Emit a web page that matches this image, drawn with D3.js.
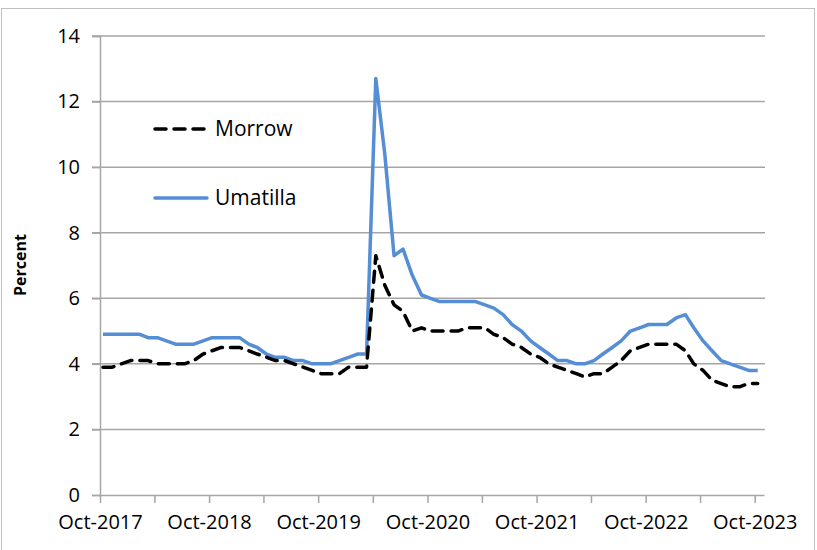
<!DOCTYPE html>
<html>
<head>
<meta charset="utf-8">
<script src="https://cdn.jsdelivr.net/npm/d3@7.9.0/dist/d3.min.js"></script>
<style>
  body { margin: 0; background: #fff; }
  svg { display: block; font-family: "Open Sans", sans-serif; }
</style>
</head>
<body>
<svg id="chart" width="817" height="550"></svg>
<script>
// monthly unemployment rate, Oct-2017 .. Oct-2023
const firstMonth = new Date(2017, 9, 1);
const lastMonth = new Date(2023, 9, 1);

const morrow = [
  3.9, 3.9, 4.0, 4.1, 4.1, 4.1, 4.0, 4.0, 4.0, 4.0,
  4.1, 4.3, 4.4, 4.5, 4.5, 4.5, 4.4, 4.3, 4.2, 4.1,
  4.1, 4.0, 3.9, 3.8, 3.7, 3.7, 3.7, 3.9, 3.9, 3.9,
  7.3, 6.4, 5.8, 5.6, 5.0, 5.1, 5.0, 5.0, 5.0, 5.0,
  5.1, 5.1, 5.1, 4.9, 4.8, 4.6, 4.5, 4.3, 4.2, 4.0,
  3.9, 3.8, 3.7, 3.6, 3.7, 3.7, 3.9, 4.1, 4.4, 4.5,
  4.6, 4.6, 4.6, 4.6, 4.4, 4.0, 3.8, 3.5, 3.4, 3.3,
  3.3, 3.4, 3.4
];

const umatilla = [
  4.9, 4.9, 4.9, 4.9, 4.9, 4.8, 4.8, 4.7, 4.6, 4.6,
  4.6, 4.7, 4.8, 4.8, 4.8, 4.8, 4.6, 4.5, 4.3, 4.2,
  4.2, 4.1, 4.1, 4.0, 4.0, 4.0, 4.1, 4.2, 4.3, 4.3,
  12.7, 10.4, 7.3, 7.5, 6.7, 6.1, 6.0, 5.9, 5.9, 5.9,
  5.9, 5.9, 5.8, 5.7, 5.5, 5.2, 5.0, 4.7, 4.5, 4.3,
  4.1, 4.1, 4.0, 4.0, 4.1, 4.3, 4.5, 4.7, 5.0, 5.1,
  5.2, 5.2, 5.2, 5.4, 5.5, 5.1, 4.7, 4.4, 4.1, 4.0,
  3.9, 3.8, 3.8
];

const yTicks = [0, 2, 4, 6, 8, 10, 12, 14];
const seriesNames = ["Morrow", "Umatilla"];

const axisEnd = d3.timeMonth.offset(lastMonth, 1);
const months = d3.timeMonth.range(firstMonth, axisEnd)
  .map((d) => d3.timeDay.offset(d, 10));
const xTicks = d3.timeMonth.range(firstMonth, axisEnd, 6);

const svg = d3.select("#chart");
const gridColor = "#a6a6a6";
const blue = "#558ed5";

// outer frame
svg.append("rect")
  .attr("x", 1.5).attr("y", 8.5)
  .attr("width", 813).attr("height", 600)
  .attr("fill", "none").attr("stroke", "#bfbfbf").attr("stroke-width", 1);

const x = d3.scaleTime().domain([firstMonth, axisEnd]).range([100, 764]);
const y = d3.scaleLinear().domain([0, 14]).range([495, 36]);

// horizontal gridlines
svg.append("g")
  .selectAll("line")
  .data(yTicks.filter((d) => d > 0))
  .join("line")
  .attr("x1", 92).attr("x2", 765)
  .attr("y1", (d) => y(d)).attr("y2", (d) => y(d))
  .attr("stroke", gridColor).attr("stroke-width", 1.5);

// y axis
const yAxis = svg.append("g")
  .attr("transform", "translate(100,0)")
  .call(d3.axisLeft(y).tickValues(yTicks).tickSize(8).tickPadding(12));
yAxis.select(".domain").attr("stroke", gridColor).attr("stroke-width", 1.5);
yAxis.selectAll(".tick line").attr("stroke", gridColor).attr("stroke-width", 1.5);
yAxis.selectAll(".tick text")
  .attr("font-size", 20).attr("fill", "#000")
  .attr("font-family", "Open Sans, sans-serif");

// x axis
const xAxis = svg.append("g")
  .attr("transform", "translate(0,495)")
  .call(d3.axisBottom(x)
    .tickValues(xTicks)
    .tickSize(8)
    .tickPadding(12)
    .tickSizeOuter(0)
    .tickFormat((d) => (d.getMonth() === 9 ? d3.timeFormat("%b-%Y")(d) : "")));
xAxis.select(".domain").attr("stroke", gridColor).attr("stroke-width", 1.5);
xAxis.selectAll(".tick line").attr("stroke", gridColor).attr("stroke-width", 1.5);
xAxis.selectAll(".tick text")
  .attr("font-size", 20).attr("fill", "#000")
  .attr("font-family", "Open Sans, sans-serif");

// y axis title
svg.append("text")
  .attr("transform", "translate(26,265) rotate(-90)")
  .attr("text-anchor", "middle")
  .attr("font-size", 16)
  .attr("font-weight", "bold")
  .text("Percent");

const line = d3.line()
  .x((d, i) => x(months[i]))
  .y((d) => y(d));

svg.append("path")
  .datum(umatilla)
  .attr("d", line)
  .attr("fill", "none")
  .attr("stroke", blue)
  .attr("stroke-width", 3.5)
  .attr("stroke-linejoin", "round");

svg.append("path")
  .datum(morrow)
  .attr("d", line)
  .attr("fill", "none")
  .attr("stroke", "#000")
  .attr("stroke-width", 3.5)
  .attr("stroke-dasharray", "11,8")
  .attr("stroke-linecap", "round")
  .attr("stroke-linejoin", "round");

// legend
const legend = svg.append("g");
const legendRows = [
  { name: seriesNames[0], y: 129, color: "#000", dash: "11,8" },
  { name: seriesNames[1], y: 198, color: blue, dash: null },
];
legendRows.forEach((r) => {
  legend.append("line")
    .attr("x1", 155).attr("x2", 207)
    .attr("y1", r.y).attr("y2", r.y)
    .attr("stroke", r.color)
    .attr("stroke-width", 3.5)
    .attr("stroke-linecap", "round")
    .attr("stroke-dasharray", r.dash);
  legend.append("text")
    .attr("x", 215).attr("y", r.y)
    .attr("dy", "0.35em")
    .attr("font-size", 21)
    .text(r.name);
});
</script>
</body>
</html>
